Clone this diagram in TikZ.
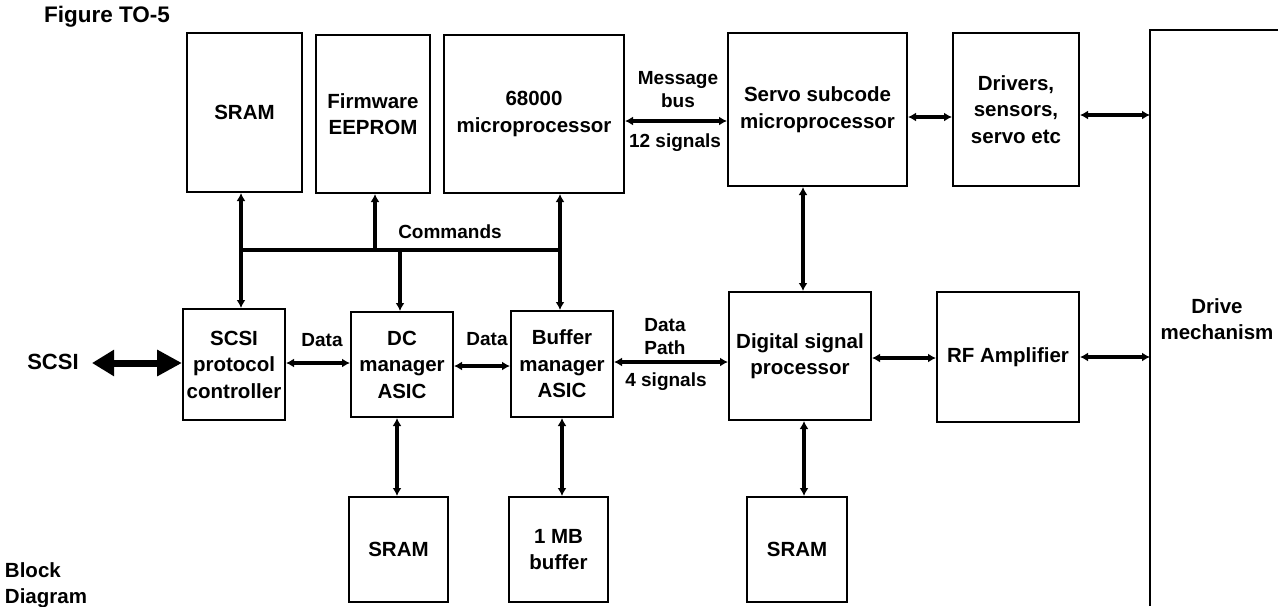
\documentclass[tikz,border=0pt]{standalone}
\usepackage{fontspec}
\setmainfont{Liberation Sans}
\usetikzlibrary{arrows.meta}
\begin{document}
\begin{tikzpicture}[x=1pt,y=-1pt,
  box/.style={draw, line width=2pt, rectangle, inner sep=0pt, align=center,
    font=\bfseries\fontsize{20.5}{26.5}\selectfont},
  lbl/.style={inner sep=0pt, align=center, font=\bfseries\fontsize{19}{23}\selectfont},
  conn/.style={line width=3.6pt, {Latex[length=8pt,width=9pt]}-{Latex[length=8pt,width=9pt]}},
  cup/.style={line width=3.6pt, -{Latex[length=8pt,width=9pt]}},
  bus/.style={line width=3.6pt},
  big/.style={line width=7pt, {Triangle[length=22pt,width=25pt]}-{Triangle[length=25pt,width=25pt]}}
]
\useasboundingbox (0,0) rectangle (1278,606);

% top row
\node[box, minimum width=115pt, minimum height=159pt] (sramA) at (244.5,112.5) {SRAM};
\node[box, minimum width=114pt, minimum height=158pt] (fw) at (373,114) {Firmware\\EEPROM};
\node[box, minimum width=180pt, minimum height=158pt] (mpu) at (534,114) {68000\\microprocessor};
\node[box, minimum width=179pt, minimum height=153pt] (servo) at (817.5,109.5) {Servo subcode\\microprocessor};
\node[box, minimum width=126pt, minimum height=153pt] (drv) at (1016,109.5) {Drivers,\\sensors,\\servo etc};

% middle row
\node[box, minimum width=102pt, minimum height=111pt] (scsi) at (234,364.5) {SCSI\\protocol\\controller};
\node[box, minimum width=102pt, minimum height=105pt] (dc) at (402,364.5) {DC\\manager\\ASIC};
\node[box, minimum width=102pt, minimum height=106pt] (buf) at (562,364) {Buffer\\manager\\ASIC};
\node[box, minimum width=142pt, minimum height=128pt] (dsp) at (800,356) {Digital signal\\processor};
\node[box, minimum width=142pt, minimum height=130pt] (rf) at (1008,357) {RF Amplifier};

% bottom row
\node[box, minimum width=99pt, minimum height=105pt] (sramB) at (398.5,549.5) {SRAM};
\node[box, minimum width=99pt, minimum height=105pt] (mb) at (558.5,549.5) {1 MB\\buffer};
\node[box, minimum width=100pt, minimum height=105pt] (sramC) at (797,549.5) {SRAM};

% drive mechanism (open box)
\draw[line width=1.6pt] (1150,606) -- (1150,30) -- (1278,30);
\coordinate (dm) at (1150,0);
\node[box, draw=none] (dmtxt) at (1217,319) {Drive\\mechanism};

% titles
\node[box, draw=none, font=\bfseries\fontsize{22.5}{27}\selectfont] (fig) at (107,17) {Figure TO-5};
\node[box, draw=none, anchor=west, align=left] (blk) at (4,585) {Block\\Diagram};

% SCSI external
\node[box, draw=none, font=\bfseries\fontsize{22}{27}\selectfont] (scsiext) at (53,362) {SCSI};
\coordinate (scsiL) at (92,363);
\draw[big] (scsiL) -- (scsiL -| scsi.west);

% commands bus
\coordinate (busL) at (241,250);
\coordinate (busR) at (560,250);
\draw[bus] (busL) -- (busR);
\draw[conn] ([xshift=-3.5pt]sramA.south) -- ([xshift=-3.5pt]sramA.south |- scsi.north);
\draw[cup] (busL -| fw.south) ++(2,0) coordinate (fwb) -- (fwb |- fw.south);
\draw[cup] (busL -| dc.north) ++(-2,0) coordinate (dcb) -- (dcb |- dc.north);
\draw[conn] (busR |- mpu.south) -- (busR |- buf.north);
\node[lbl] (cmd) at (450,232) {Commands};

% message bus
\draw[conn] ([yshift=-7pt]mpu.east) -- ([yshift=-7pt]mpu.east -| servo.west);
\node[lbl] (msg) at (678,90) {Message\\bus};
\node[lbl] (sig12) at (675,143) {12 signals};
\draw[conn] ([yshift=-7.5pt]servo.east) -- ([yshift=-7.5pt]servo.east -| drv.west);
\draw[conn] ([yshift=-5.5pt]drv.east) -- ([yshift=-5.5pt]drv.east -| dm);
\draw[conn] ([xshift=-14.5pt]servo.south) -- ([xshift=-14.5pt]servo.south |- dsp.north);

% data path
\draw[conn] ([yshift=1.5pt]scsi.east) -- ([yshift=1.5pt]scsi.east -| dc.west);
\node[lbl] (d1) at (322,340) {Data};
\draw[conn] ([yshift=-1.5pt]dc.east) -- ([yshift=-1.5pt]dc.east -| buf.west);
\node[lbl] (d2) at (487,339) {Data};
\draw[conn] ([yshift=2pt]buf.east) -- ([yshift=2pt]buf.east -| dsp.west);
\node[lbl] (dp) at (665,336.5) {Data\\Path};
\node[lbl] (sig4) at (666,382) {4 signals};
\draw[conn] ([yshift=-2pt]dsp.east) -- ([yshift=-2pt]dsp.east -| rf.west);
\draw[conn] (rf.east) -- (rf.east -| dm);

% down links
\draw[conn] ([xshift=-5pt]dc.south) -- ([xshift=-5pt]dc.south |- sramB.north);
\draw[conn] (buf.south) -- (buf.south |- mb.north);
\draw[conn] ([xshift=4pt]dsp.south) -- ([xshift=4pt]dsp.south |- sramC.north);
\end{tikzpicture}
\end{document}
